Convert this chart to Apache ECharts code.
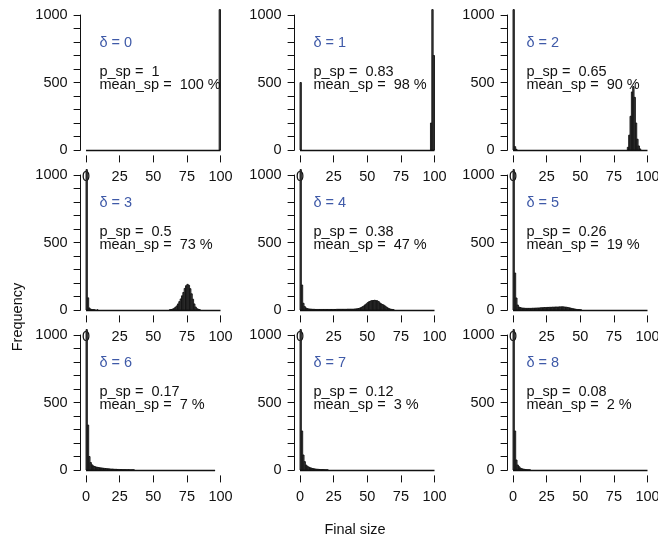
<!DOCTYPE html>
<html>
<head>
<meta charset="utf-8">
<script src="https://cdn.jsdelivr.net/npm/echarts@6/dist/echarts.min.js"></script>
<style>
  html, body { margin: 0; padding: 0; background: #ffffff; }
  #chart { width: 658px; height: 541px; }
</style>
</head>
<body>
<div id="chart"></div>
<script>
// ---- Data -------------------------------------------------------------
// One panel per delta value; histograms of final size (bins of width 1, 0..100).
const deltas = [0, 1, 2, 3, 4, 5, 6, 7, 8];
const pSp = ['1', '0.83', '0.65', '0.5', '0.38', '0.26', '0.17', '0.12', '0.08'];
const meanSp = [100, 98, 90, 73, 47, 19, 7, 3, 2];
const lastBreak = [100, 100, 100, 100, 100, 100, 96, 100, 100];
const xTicks = [0, 25, 50, 75, 100];
const yTickLabels = [0, 500, 1000];

// Sparse bin counts: [left edge of bin, frequency]; bins not listed are empty.
const counts0 = [[99, 3000]];
const counts1 = [[0, 500], [97, 200], [98, 1650], [99, 700]];
const counts2 = [[0, 1050], [1, 25], [2, 5],
  [85, 20], [86, 110], [87, 250], [88, 430], [89, 470], [90, 390], [91, 200], [92, 80], [93, 30], [94, 8]];
const counts3 = [[0, 1500], [1, 90], [2, 15], [3, 6], [4, 3], [5, 2], [6, 1], [8, 1],
  [62, 2], [63, 4], [64, 7], [65, 12], [66, 20], [67, 30], [68, 45], [69, 62], [70, 82], [71, 105],
  [72, 130], [73, 160], [74, 180], [75, 190], [76, 183], [77, 158], [78, 120], [79, 80], [80, 45],
  [81, 22], [82, 10], [83, 5], [84, 2]];
const counts4 = [[0, 1860], [1, 185], [2, 50], [3, 25], [4, 15], [5, 10], [6, 8], [7, 7], [8, 6],
  [9, 5], [10, 5], [11, 4], [12, 4], [13, 4], [14, 4], [15, 4], [16, 4], [17, 4], [18, 4], [19, 4],
  [20, 4], [21, 4], [22, 4], [23, 4], [24, 4], [25, 4], [26, 4], [27, 5], [28, 5], [29, 5], [30, 5],
  [31, 5], [32, 5], [33, 5], [34, 5], [35, 6], [36, 6], [37, 6], [38, 6], [39, 6],
  [40, 7], [41, 8], [42, 9], [43, 11], [44, 14], [45, 18], [46, 24], [47, 30], [48, 38], [49, 46],
  [50, 55], [51, 62], [52, 66], [53, 70], [54, 70], [55, 72], [56, 70], [57, 68], [58, 62], [59, 52],
  [60, 45], [61, 40], [62, 35], [63, 28], [64, 20], [65, 14], [66, 9], [67, 6], [68, 4], [69, 2]];
const counts5 = [[0, 2220], [1, 274], [2, 89], [3, 37], [4, 22], [5, 18], [6, 15], [7, 14], [8, 13],
  [9, 12], [10, 12], [11, 12], [12, 12], [13, 12], [14, 13], [15, 13], [16, 14], [17, 14], [18, 15],
  [19, 15], [20, 16], [21, 17], [22, 17], [23, 18], [24, 18], [25, 19], [26, 19], [27, 20], [28, 20],
  [29, 21], [30, 21], [31, 22], [32, 22], [33, 22], [34, 23], [35, 23], [36, 24], [37, 23], [38, 22],
  [39, 21], [40, 19], [41, 17], [42, 15], [43, 12], [44, 10], [45, 8], [46, 6], [47, 4], [48, 3],
  [49, 2], [50, 1]];
const counts6 = [[0, 2490], [1, 333], [2, 100], [3, 55], [4, 38], [5, 30], [6, 26], [7, 22], [8, 20],
  [9, 18], [10, 16], [11, 15], [12, 14], [13, 12], [14, 11], [15, 10], [16, 9], [17, 8], [18, 7],
  [19, 7], [20, 6], [21, 5], [22, 5], [23, 4], [24, 4], [25, 3], [26, 3], [27, 3], [28, 2], [29, 2],
  [30, 2], [31, 2], [32, 1], [33, 1], [34, 1], [35, 1]];
const counts7 = [[0, 2640], [1, 289], [2, 111], [3, 62], [4, 37], [5, 28], [6, 22], [7, 17], [8, 14],
  [9, 11], [10, 9], [11, 7], [12, 6], [13, 5], [14, 4], [15, 3], [16, 3], [17, 2], [18, 2], [19, 1],
  [20, 1]];
const counts8 = [[0, 2760], [1, 289], [2, 74], [3, 37], [4, 25], [5, 15], [6, 10], [7, 7], [8, 5],
  [9, 3], [10, 2], [11, 1], [12, 1]];
const histograms = [counts0, counts1, counts2, counts3, counts4, counts5, counts6, counts7, counts8];

// ---- Layout -----------------------------------------------------------
const BIN_WIDTH = 1;
const X_MIN = 0, X_MAX = 100, X_PAD = 4;       // 4% range extension on each side
const Y_MIN = 0, Y_MAX = 1000, Y_PAD = 40;
const colX0 = [86, 300, 513];                 // pixel of x = 0 for each column
const rowY0 = [150, 310, 470];                // pixel of y = 0 for each row
const PX_X = 1.345;                           // pixels per unit of final size
const PX_Y = 0.135;                           // pixels per unit of frequency

const FONT = "'Liberation Sans', Arial, Helvetica, sans-serif";
const FONT_SIZE = 14.5;
const INK = '#111111';
const DELTA_COLOR = '#3f5aa8';

const grid = [], xAxis = [], yAxis = [], series = [];

// one filled bar per non-empty bin, clipped to the plotting region
function renderBin(params, api) {
  const left = api.value(0);
  const count = api.value(1);
  if (!count) return null;
  const p0 = api.coord([left, count]);
  const p1 = api.coord([left + BIN_WIDTH, 0]);
  const cs = params.coordSys;
  const rect = echarts.graphic.clipRectByRect(
    { x: p0[0], y: p0[1], width: p1[0] - p0[0], height: p1[1] - p0[1] },
    { x: cs.x, y: cs.y, width: cs.width, height: cs.height });
  if (!rect) return null;
  return { type: 'rect', shape: rect, style: { fill: '#4a4a4a', stroke: INK, lineWidth: 0.9 } };
}

// continuous zero line across all breaks of the histogram
function renderBaseline(params, api) {
  const a = api.coord([api.value(0), 0]);
  const b = api.coord([api.value(1), 0]);
  const y = Math.round(a[1]) + 0.5;
  return { type: 'line', shape: { x1: a[0], y1: y, x2: b[0], y2: y },
    style: { stroke: INK, lineWidth: 1.3 } };
}

function makeNoteRenderer(i) {
  return function (params, api) {
    const pd = api.coord([10, 795]);
    const p1 = api.coord([10, 577]);
    const p2 = api.coord([10, 478]);
    const base = { fontSize: FONT_SIZE, fontFamily: FONT, align: 'left', verticalAlign: 'middle' };
    return {
      type: 'group',
      children: [
        { type: 'text', x: pd[0], y: pd[1],
          style: Object.assign({ text: '\u03b4 = ' + deltas[i], fill: DELTA_COLOR }, base) },
        { type: 'text', x: p1[0], y: p1[1],
          style: Object.assign({ text: 'p_sp =  ' + pSp[i], fill: INK }, base) },
        { type: 'text', x: p2[0], y: p2[1],
          style: Object.assign({ text: 'mean_sp =  ' + meanSp[i] + ' %', fill: INK }, base) }
      ]
    };
  };
}

const axisText = { color: INK, fontSize: FONT_SIZE, fontFamily: FONT };

deltas.forEach(function (d, i) {
  const r = Math.floor(i / 3), c = i % 3;
  const x0 = colX0[c], y0 = rowY0[r];
  const g = grid.length;

  // data area (extended range), y-axis area, x-axis area
  grid.push({ left: x0 - X_PAD * PX_X, top: y0 - (Y_MAX + Y_PAD) * PX_Y,
    width: (X_MAX - X_MIN + 2 * X_PAD) * PX_X, height: (Y_MAX - Y_MIN + 2 * Y_PAD) * PX_Y,
    outerBoundsMode: 'none', containLabel: false });
  grid.push({ left: x0 - X_PAD * PX_X, top: y0 - Y_MAX * PX_Y,
    width: (X_MAX - X_MIN + 2 * X_PAD) * PX_X, height: (Y_MAX - Y_MIN) * PX_Y,
    outerBoundsMode: 'none', containLabel: false });
  grid.push({ left: x0, top: y0 - (Y_MAX + Y_PAD) * PX_Y,
    width: (X_MAX - X_MIN) * PX_X, height: (Y_MAX - Y_MIN + 2 * Y_PAD) * PX_Y,
    outerBoundsMode: 'none', containLabel: false });

  // hidden axes of the data area
  xAxis.push({ gridIndex: g, type: 'value', min: X_MIN - X_PAD, max: X_MAX + X_PAD, show: false });
  yAxis.push({ gridIndex: g, type: 'value', min: Y_MIN - Y_PAD, max: Y_MAX + Y_PAD, show: false });

  // visible frequency axis
  xAxis.push({ gridIndex: g + 1, type: 'value', min: 0, max: 1, show: false });
  yAxis.push({ gridIndex: g + 1, type: 'value', min: Y_MIN, max: Y_MAX, interval: 100,
    axisLine: { show: true, lineStyle: { color: INK, width: 1 } },
    axisTick: { show: true, length: 7, lineStyle: { color: INK, width: 1 } },
    splitLine: { show: false },
    axisLabel: Object.assign({ margin: 13, showMinLabel: true, showMaxLabel: true,
      formatter: function (v) { return yTickLabels.indexOf(v) >= 0 ? String(v) : ''; } }, axisText) });

  // visible final-size axis: tick marks and labels only
  xAxis.push({ gridIndex: g + 2, type: 'value', min: xTicks[0], max: xTicks[xTicks.length - 1],
    interval: xTicks[1] - xTicks[0], position: 'bottom',
    axisLine: { show: false, onZero: false },
    axisTick: { show: true, length: 7, lineStyle: { color: INK, width: 1 } },
    splitLine: { show: false },
    axisLabel: Object.assign({ margin: 14, showMinLabel: true, showMaxLabel: true }, axisText) });
  yAxis.push({ gridIndex: g + 2, type: 'value', min: 0, max: 1, show: false });

  // full bin list from 0 up to the last break
  const lookup = {};
  histograms[i].forEach(function (b) { lookup[b[0]] = b[1]; });
  const bins = [];
  for (let b = 0; b < lastBreak[i]; b += BIN_WIDTH) bins.push([b, lookup[b] || 0]);

  series.push({ type: 'custom', xAxisIndex: g, yAxisIndex: g, renderItem: renderBaseline,
    data: [[X_MIN, lastBreak[i]]], z: 2, silent: true });
  series.push({ type: 'custom', xAxisIndex: g, yAxisIndex: g, renderItem: renderBin,
    data: bins, z: 3, silent: true });
  series.push({ type: 'custom', xAxisIndex: g, yAxisIndex: g, renderItem: makeNoteRenderer(i),
    data: [[10, 800]], z: 4, silent: true });
});

const chart = echarts.init(document.getElementById('chart'), null, { renderer: 'canvas' });
chart.setOption({
  animation: false,
  backgroundColor: '#ffffff',
  grid: grid,
  xAxis: xAxis,
  yAxis: yAxis,
  series: series,
  graphic: [
    { type: 'text', x: 18, y: 317, rotation: Math.PI / 2,
      style: { text: 'Frequency', fill: INK, fontSize: FONT_SIZE, fontFamily: FONT,
        align: 'center', verticalAlign: 'middle' } },
    { type: 'text', x: 355, y: 530,
      style: { text: 'Final size', fill: INK, fontSize: FONT_SIZE, fontFamily: FONT,
        align: 'center', verticalAlign: 'middle' } }
  ]
});
</script>
</body>
</html>
